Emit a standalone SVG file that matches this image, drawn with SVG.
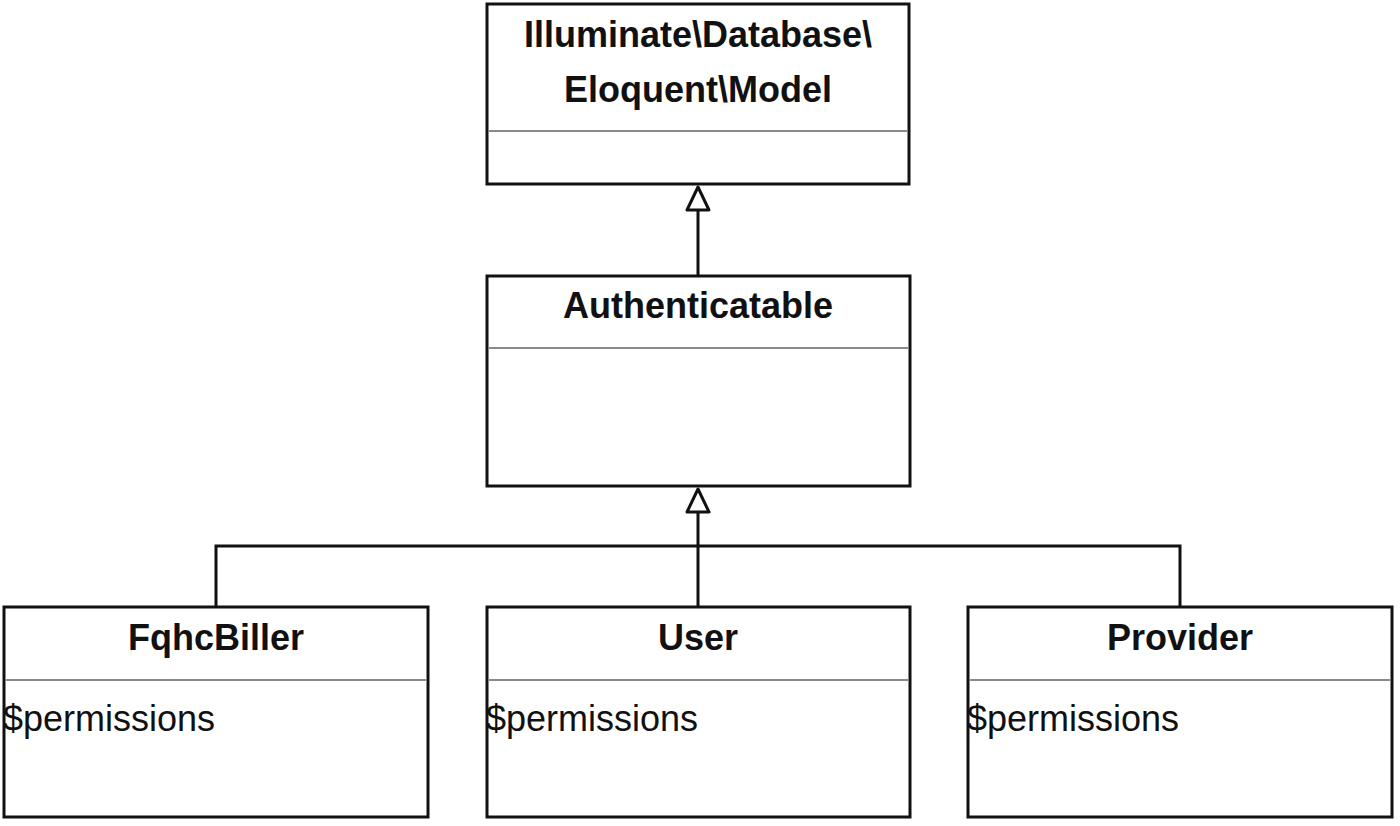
<svg xmlns="http://www.w3.org/2000/svg" width="1400" height="826" viewBox="0 0 1400 826">
<defs>
<style>
.box{fill:#fff;stroke:#111;stroke-width:3}
.div{stroke:#8a8a8a;stroke-width:2}
.title{font-family:"Liberation Sans",Arial,sans-serif;font-weight:bold;font-size:36px;fill:#111;text-anchor:middle}
.attr{font-family:"Liberation Sans",Arial,sans-serif;font-size:36px;fill:#111}
.conn{fill:none;stroke:#111;stroke-width:3}
.head{fill:#fff;stroke:#111;stroke-width:3;stroke-linejoin:round}
</style>
</defs>
<rect width="1400" height="826" fill="#fff"/>
<g id="connectors">
<path class="conn" d="M698,210 L698,276"/>
<path class="head" d="M698,187 L709,210 L687,210 Z"/>
<path class="conn" d="M698,512 L698,607"/>
<path class="conn" d="M216,607 L216,546 L1180,546 L1180,607"/>
<path class="head" d="M698,489 L709,512 L687,512 Z"/>
</g>
<g id="model">
<rect class="box" x="487" y="4" width="422" height="180"/>
<line class="div" x1="489" y1="131" x2="907" y2="131"/>
<text class="title" x="698" y="47">Illuminate\Database\</text>
<text class="title" x="698" y="102">Eloquent\Model</text>
</g>
<g id="authenticatable">
<rect class="box" x="487" y="276" width="423" height="210"/>
<line class="div" x1="489" y1="348" x2="908" y2="348"/>
<text class="title" x="698" y="318">Authenticatable</text>
</g>
<g id="fqhcbiller">
<rect class="box" x="4" y="607" width="424" height="210"/>
<line class="div" x1="6" y1="680" x2="426" y2="680"/>
<text class="title" x="216" y="650">FqhcBiller</text>
<text class="attr" x="3" y="731">$permissions</text>
</g>
<g id="user">
<rect class="box" x="487" y="607" width="423" height="210"/>
<line class="div" x1="489" y1="680" x2="908" y2="680"/>
<text class="title" x="698" y="650">User</text>
<text class="attr" x="486" y="731">$permissions</text>
</g>
<g id="provider">
<rect class="box" x="968" y="607" width="424" height="210"/>
<line class="div" x1="970" y1="680" x2="1390" y2="680"/>
<text class="title" x="1180" y="650">Provider</text>
<text class="attr" x="967" y="731">$permissions</text>
</g>
</svg>
